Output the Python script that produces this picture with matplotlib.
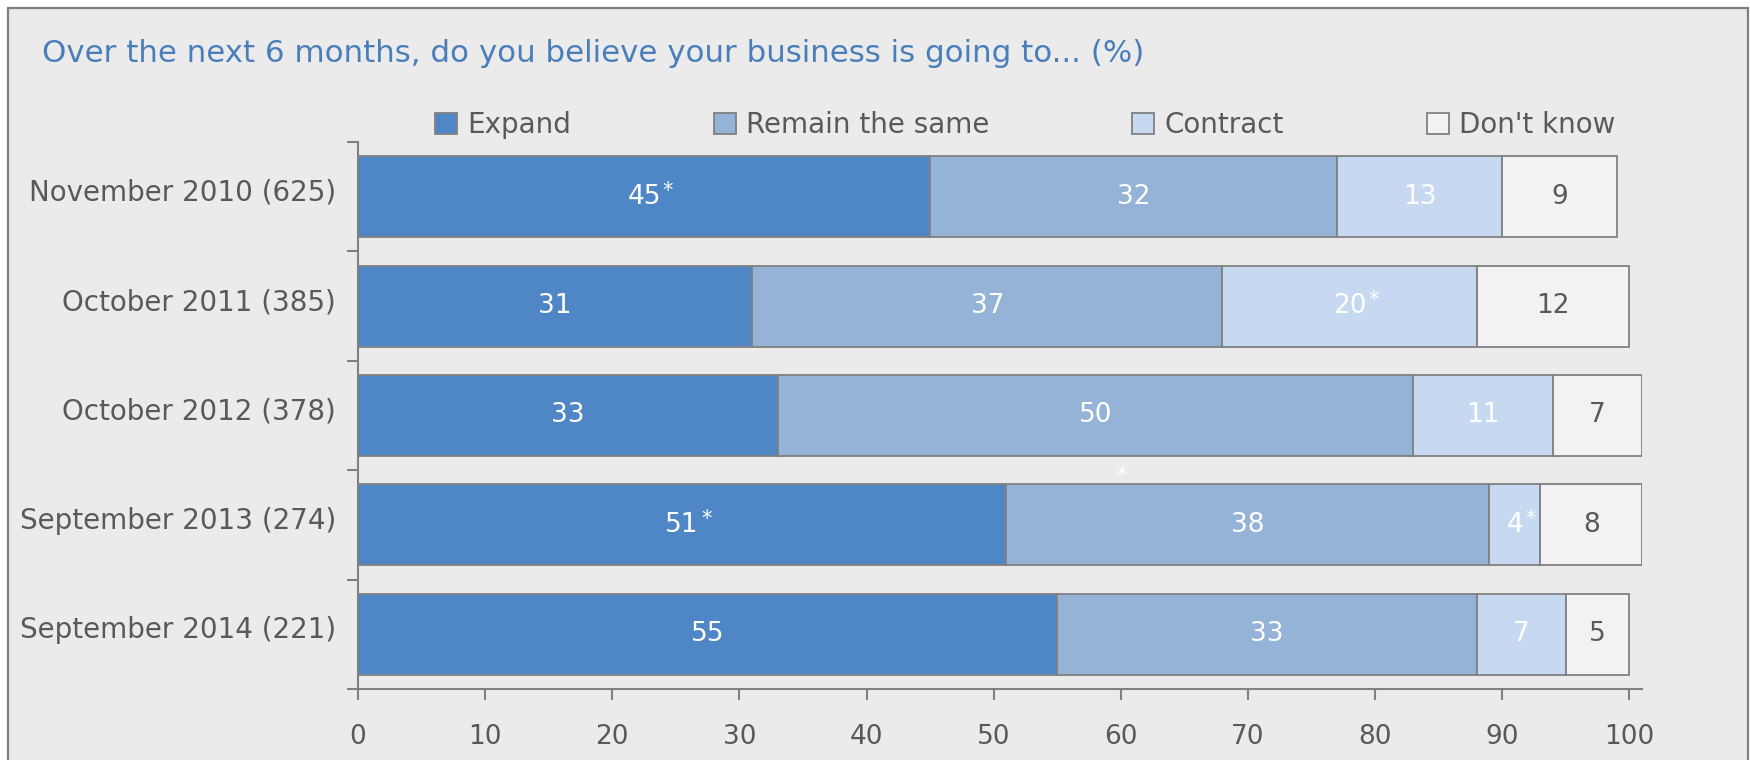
import matplotlib
matplotlib.use("Agg")
import matplotlib.pyplot as plt
from matplotlib.patches import Rectangle, Patch
from matplotlib.transforms import ScaledTranslation
import numpy as np

plt.rcParams['font.family'] = ['DejaVu Sans']

# ---- data ----
categories = ["November 2010 (625)", "October 2011 (385)", "October 2012 (378)",
              "September 2013 (274)", "September 2014 (221)"]
series_names = ["Expand", "Remain the same", "Contract", "Don't know"]
expand = [45, 31, 33, 51, 55]
remain = [32, 37, 50, 38, 33]
contract = [13, 20, 11, 4, 7]
dontknow = [9, 12, 7, 8, 5]
expand_star = [True, False, False, True, False]
remain_star = [False, False, False, False, False]
contract_star = [False, True, False, True, False]
dontknow_star = [False, False, False, False, False]
stray_star = (60.1, 2.55)   # asterisk floating between Oct 2012 and Sep 2013
xticks = [0, 10, 20, 30, 40, 50, 60, 70, 80, 90, 100]
title = "Over the next 6 months, do you believe your business is going to... (%)"

colors = ["#4f86c6", "#95b3d7", "#c6d9f1", "#f2f2f2"]
text_colors = ["white", "white", "white", "#595959"]
edge = "#808080"
grey_text = "#595959"

W, H = 1750, 760
fig = plt.figure(figsize=(W / 100, H / 100), dpi=100, facecolor="white")

# panel background with border
fig.patches.append(Rectangle((8 / W, -0.05), (1748 - 8) / W, (H - 8) / H + 0.05,
                             transform=fig.transFigure, facecolor="#ebebeb",
                             edgecolor=edge, linewidth=1.6, zorder=-10))

left, right = 358 / W, 1642 / W
top, bottom = 1 - 142 / H, 1 - 689 / H
ax = fig.add_axes([left, bottom, right - left, top - bottom])
ax.set_facecolor("none")

y = np.arange(len(categories))
data = [expand, remain, contract, dontknow]
stars = [expand_star, remain_star, contract_star, dontknow_star]
cum = np.zeros(len(categories))
for vals, col, tcol, st, name in zip(data, colors, text_colors, stars, series_names):
    vals = np.array(vals, dtype=float)
    ax.barh(y, vals, left=cum, height=0.74, color=col, edgecolor=edge,
            linewidth=1.3, label=name, zorder=2)
    for i, v in enumerate(vals):
        t = ax.text(cum[i] + v / 2, y[i], f"{int(v)}", ha="center", va="center",
                    color=tcol, fontsize=19, zorder=3)
        if st[i]:
            ax.annotate("*", xy=(1, 0.72), xycoords=t, xytext=(1.5, 0),
                        textcoords="offset points", ha="left", va="center",
                        color="white", fontsize=15, zorder=3)
    cum += vals

ax.text(stray_star[0], stray_star[1], "*", ha="center", va="center",
        color="white", fontsize=15, zorder=3)

ax.set_xlim(0, 101)
ax.set_ylim(len(categories) - 0.5, -0.5)
ax.set_xticks(xticks)
ax.set_xticklabels([str(v) for v in xticks])
ax.set_yticks(y)
ax.set_yticklabels(categories)
ax.set_yticks(np.arange(-0.5, len(categories), 1.0), minor=True)

for s in ["top", "right"]:
    ax.spines[s].set_visible(False)
for s in ["left", "bottom"]:
    ax.spines[s].set_color(edge)
    ax.spines[s].set_linewidth(1.5)

ax.tick_params(axis="x", direction="out", length=8, width=1.5, color=edge,
               labelsize=19, labelcolor=grey_text, pad=17)
ax.tick_params(axis="y", which="major", length=0, labelsize=20,
               labelcolor=grey_text, pad=16)
ax.tick_params(axis="y", which="minor", direction="out", length=8, width=1.5,
               color=edge)
shift = ScaledTranslation(0, 5 / 72, fig.dpi_scale_trans)
for lab in ax.get_yticklabels():
    lab.set_transform(lab.get_transform() + shift)

fig.text(42 / W, 1 - 54 / H, title, ha="left", va="center", color="#4a7ebb",
         fontsize=22.2)

handles = [Patch(facecolor=c, edgecolor=edge, linewidth=1.3) for c in colors]
fig.legend(handles, series_names, loc="center left",
           bbox_to_anchor=(435 / W, 1 - 125 / H), ncol=4, frameon=False,
           fontsize=20, labelcolor=grey_text, handlelength=0.8,
           handleheight=0.8, handletextpad=0.35, columnspacing=5.15,
           borderpad=0, borderaxespad=0)

fig.savefig("out.png", dpi=100, facecolor=fig.get_facecolor())
